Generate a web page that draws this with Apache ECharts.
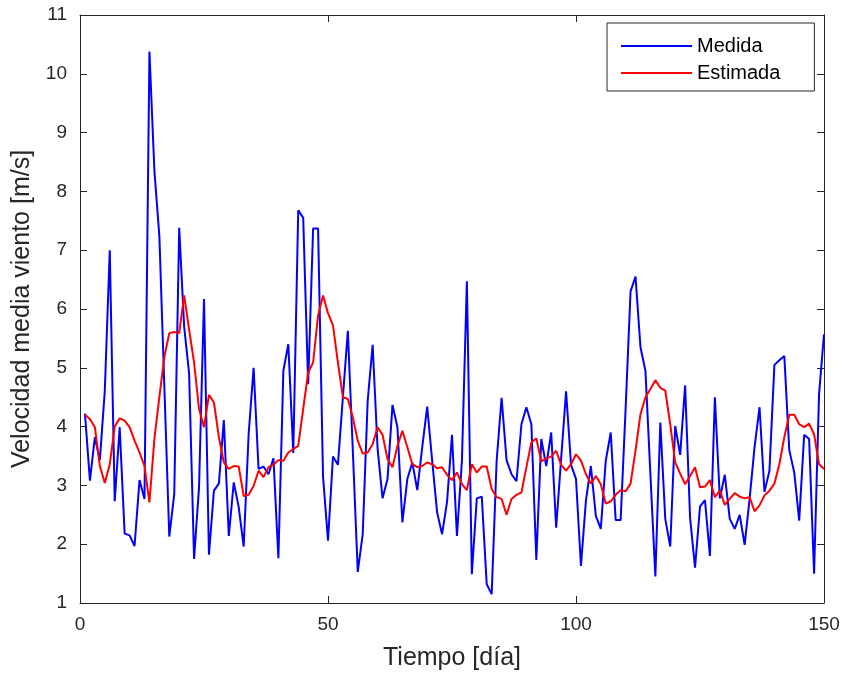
<!DOCTYPE html>
<html>
<head>
<meta charset="utf-8">
<script src="https://cdn.jsdelivr.net/npm/echarts@6/dist/echarts.min.js"></script>
<style>
html,body{margin:0;padding:0;background:#fff;}
#chart{width:846px;height:679px;}
</style>
</head>
<body>
<div id="chart"></div>
<script>
var seriesNames = ['Medida', 'Estimada'];
var xTicks = [0, 50, 100, 150];
var yTicks = [1, 2, 3, 4, 5, 6, 7, 8, 9, 10, 11];
var medida = [
4.22,3.08,3.82,3.43,4.61,7.00,2.73,3.99,2.18,2.15,
1.97,3.09,2.77,10.38,8.35,7.24,4.70,2.13,2.85,7.38,
5.70,4.90,1.75,2.97,6.17,1.82,2.91,3.03,4.11,2.14,
3.05,2.63,1.96,3.87,5.00,3.28,3.32,3.19,3.46,1.76,
4.95,5.40,3.55,7.68,7.55,4.72,7.37,7.37,3.15,2.06,
3.49,3.35,4.50,5.63,3.60,1.53,2.17,4.44,5.39,3.62,
2.78,3.11,4.37,3.99,2.37,3.11,3.39,2.92,3.65,4.34,
3.42,2.54,2.17,2.72,3.86,2.14,3.42,6.47,1.49,2.78,
2.81,1.32,1.15,3.42,4.49,3.43,3.19,3.07,4.04,4.33,
4.04,1.73,3.79,3.33,3.90,2.28,3.45,4.60,3.35,3.11,
1.63,2.74,3.33,2.48,2.26,3.42,3.90,2.41,2.41,4.30,
6.30,6.55,5.35,4.95,3.19,1.45,4.07,2.43,1.96,4.01,
3.52,4.70,2.45,1.60,2.64,2.75,1.80,4.50,2.78,3.18,
2.43,2.26,2.50,1.99,2.77,3.65,4.33,2.89,3.25,5.05,
5.13,5.20,3.60,3.22,2.40,3.86,3.79,1.50,4.55,5.57
];
var estimada = [
4.20,4.13,3.99,3.33,3.04,3.36,4.00,4.14,4.10,3.99,
3.76,3.56,3.33,2.71,3.79,4.50,5.18,5.59,5.61,5.59,
6.23,5.65,5.09,4.30,3.99,4.54,4.41,3.82,3.39,3.28,
3.33,3.32,2.82,2.84,2.99,3.25,3.14,3.31,3.35,3.43,
3.42,3.56,3.62,3.67,4.30,4.92,5.09,5.89,6.23,5.93,
5.72,5.09,4.50,4.47,4.16,3.76,3.54,3.56,3.70,3.99,
3.86,3.45,3.31,3.67,3.93,3.65,3.36,3.31,3.33,3.39,
3.36,3.29,3.31,3.18,3.09,3.22,3.02,2.92,3.36,3.22,
3.32,3.32,2.94,2.80,2.77,2.50,2.77,2.84,2.88,3.31,
3.73,3.80,3.41,3.46,3.49,3.59,3.35,3.25,3.36,3.53,
3.42,3.19,3.03,3.16,3.02,2.69,2.73,2.84,2.92,2.90,
3.03,3.59,4.21,4.50,4.64,4.79,4.66,4.61,4.04,3.39,
3.20,3.02,3.16,3.31,2.97,2.98,3.09,2.80,2.91,2.67,
2.77,2.87,2.81,2.78,2.80,2.56,2.66,2.83,2.91,3.03,
3.36,3.82,4.20,4.20,4.04,3.99,4.05,3.87,3.36,3.28
];

function toPairs(arr) {
  return arr.map(function (v, i) { return [i + 1, v]; });
}

var FONT = '"Liberation Sans", Arial, Helvetica, sans-serif';
var AX = '#262626';
var xMin = xTicks[0], xMax = xTicks[xTicks.length - 1];
var yMin = yTicks[0], yMax = yTicks[yTicks.length - 1];

var chart = echarts.init(document.getElementById('chart'), null, {renderer: 'canvas'});
var baseX = {
  type: 'value', min: xMin, max: xMax, interval: 50,
  axisLine: {show: true, onZero: false, lineStyle: {color: AX, width: 1}},
  axisTick: {show: true, inside: true, length: 7, lineStyle: {color: AX}},
  splitLine: {show: false}
};
var baseY = {
  type: 'value', min: yMin, max: yMax, interval: 1,
  axisLine: {show: true, onZero: false, lineStyle: {color: AX, width: 1}},
  axisTick: {show: true, inside: true, length: 7, lineStyle: {color: AX}},
  splitLine: {show: false}
};
var option = {
  animation: false,
  backgroundColor: '#fff',
  grid: {left: 80, top: 15, width: 744, height: 588, containLabel: false},
  legend: {
    data: [
      {name: seriesNames[0], icon: 'rect', itemStyle: {color: '#0000ff'}},
      {name: seriesNames[1], icon: 'rect', itemStyle: {color: '#ff0000'}}
    ],
    orient: 'vertical',
    left: 607, top: 23,
    padding: [13, 34, 8, 14],
    itemWidth: 71, itemHeight: 2, itemGap: 7,
    borderColor: AX, borderWidth: 1, backgroundColor: '#fff',
    textStyle: {fontFamily: FONT, fontSize: 20, color: '#000', lineHeight: 20, height: 20}
  },
  xAxis: [
    Object.assign({}, baseX, {
      position: 'bottom',
      name: 'Tiempo [día]', nameLocation: 'middle', nameGap: 43,
      nameTextStyle: {fontFamily: FONT, fontSize: 25, color: AX},
      axisLabel: {show: true, margin: 12, fontFamily: FONT, fontSize: 19, color: AX}
    }),
    Object.assign({}, baseX, {position: 'top', axisLabel: {show: false}})
  ],
  yAxis: [
    Object.assign({}, baseY, {
      position: 'left',
      name: 'Velocidad media viento [m/s]', nameLocation: 'middle', nameGap: 33,
      nameTextStyle: {fontFamily: FONT, fontSize: 25, color: AX},
      axisLabel: {show: true, margin: 13, fontFamily: FONT, fontSize: 19, color: AX}
    }),
    Object.assign({}, baseY, {position: 'right', axisLabel: {show: false}})
  ],
  series: [
    {name: seriesNames[0], type: 'line', data: toPairs(medida), symbol: 'none',
     lineStyle: {color: '#0000ff', width: 2}, itemStyle: {color: '#0000ff'}},
    {name: seriesNames[1], type: 'line', data: toPairs(estimada), symbol: 'none',
     lineStyle: {color: '#ff0000', width: 2}, itemStyle: {color: '#ff0000'}}
  ]
};
chart.setOption(option);
</script>
</body>
</html>
